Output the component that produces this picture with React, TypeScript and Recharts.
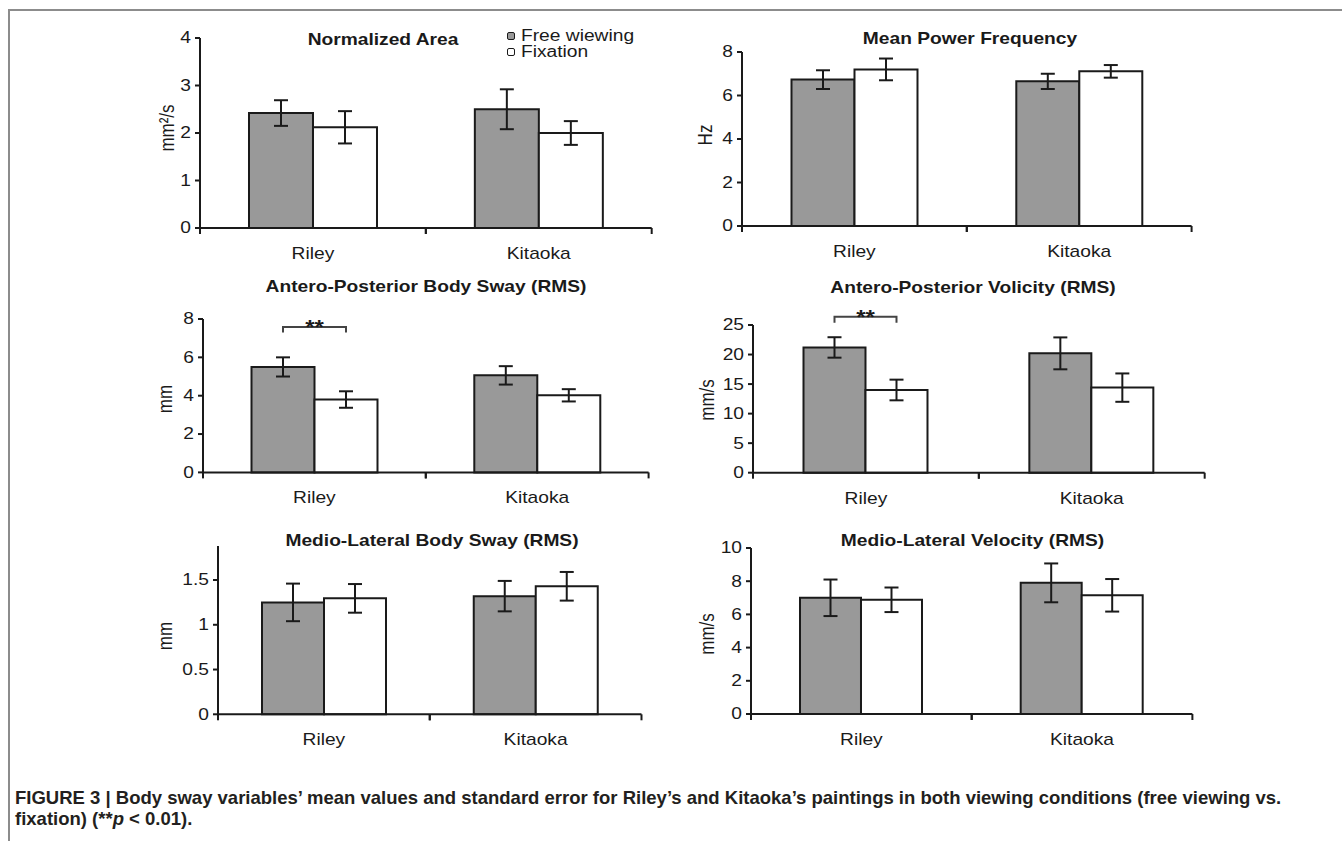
import React from 'react'
import { BarChart, Bar, XAxis, YAxis, ErrorBar, LabelList } from 'recharts'

const categories = ['Riley', 'Kitaoka']
const seriesNames = ['Free wiewing', 'Fixation']

// Normalized Area (mm²/s)
const areaFree = [2.42, 2.5]
const areaFreeSe = [0.27, 0.42]
const areaFix = [2.12, 2.0]
const areaFixSe = [0.34, 0.25]
const areaTicks = [0, 1, 2, 3, 4]

// Mean Power Frequency (Hz)
const mpfFree = [6.73, 6.65]
const mpfFreeSe = [0.43, 0.35]
const mpfFix = [7.2, 7.11]
const mpfFixSe = [0.5, 0.29]
const mpfTicks = [0, 2, 4, 6, 8]

// Antero-Posterior Body Sway (mm)
const apSwayFree = [5.5, 5.06]
const apSwayFreeSe = [0.5, 0.48]
const apSwayFix = [3.8, 4.02]
const apSwayFixSe = [0.43, 0.32]
const apSwayTicks = [0, 2, 4, 6, 8]

// Antero-Posterior Velocity (mm/s)
const apVelFree = [21.2, 20.2]
const apVelFreeSe = [1.73, 2.7]
const apVelFix = [14.0, 14.4]
const apVelFixSe = [1.75, 2.4]
const apVelTicks = [0, 5, 10, 15, 20, 25]

// Medio-Lateral Body Sway (mm)
const mlSwayFree = [1.25, 1.32]
const mlSwayFreeSe = [0.21, 0.17]
const mlSwayFix = [1.295, 1.43]
const mlSwayFixSe = [0.16, 0.16]
const mlSwayTicks = [0, 0.5, 1, 1.5]

// Medio-Lateral Velocity (mm/s)
const mlVelFree = [7.0, 7.9]
const mlVelFreeSe = [1.1, 1.17]
const mlVelFix = [6.88, 7.15]
const mlVelFixSe = [0.74, 0.98]
const mlVelTicks = [0, 2, 4, 6, 8, 10]

const FONT = '"Liberation Sans", Arial, Helvetica, sans-serif'
const INK = '#1a1a1a'
const GRAY = '#999999'
const seriesFill = [GRAY, '#ffffff']
const SX = 1.2

const panels = [
  {
    title: 'Normalized Area', unit: 'mm²/s', free: areaFree, freeSe: areaFreeSe, fix: areaFix, fixSe: areaFixSe,
    ticks: areaTicks, max: 4, axisX: 199.7, xEnd: 651.4, yTop: 38, yBot: 228, gap: 49,
    titleX: 383, titleY: 39.5, unitX: 167, unitY: 128,
  },
  {
    title: 'Mean Power Frequency', unit: 'Hz', free: mpfFree, freeSe: mpfFreeSe, fix: mpfFix, fixSe: mpfFixSe,
    ticks: mpfTicks, max: 8, axisX: 742.4, xEnd: 1192, yTop: 51.7, yBot: 225.7, gap: 49.5,
    titleX: 970, titleY: 39, unitX: 705, unitY: 135,
  },
  {
    title: 'Antero-Posterior Body Sway (RMS)', unit: 'mm', free: apSwayFree, freeSe: apSwayFreeSe, fix: apSwayFix, fixSe: apSwayFixSe,
    ticks: apSwayTicks, max: 8, axisX: 203.2, xEnd: 648.8, yTop: 319.3, yBot: 472.7, gap: 48.5,
    titleX: 426, titleY: 286.7, unitX: 165, unitY: 399,
    sig: { index: 0, leg: 7.29, top: 7.58 },
  },
  {
    title: 'Antero-Posterior Volicity (RMS)', unit: 'mm/s', free: apVelFree, freeSe: apVelFreeSe, fix: apVelFix, fixSe: apVelFixSe,
    ticks: apVelTicks, max: 25, axisX: 753.1, xEnd: 1204.8, yTop: 325, yBot: 472.7, gap: 50.5,
    titleX: 973, titleY: 287.4, unitX: 707, unitY: 400,
    sig: { index: 0, leg: 25.4, top: 26.4 },
  },
  {
    title: 'Medio-Lateral Body Sway (RMS)', unit: 'mm', free: mlSwayFree, freeSe: mlSwayFreeSe, fix: mlSwayFix, fixSe: mlSwayFixSe,
    ticks: mlSwayTicks, max: 1.88, axisX: 218.1, xEnd: 641.6, yTop: 546, yBot: 714.3, gap: 44,
    titleX: 432, titleY: 540.7, unitX: 165, unitY: 636,
  },
  {
    title: 'Medio-Lateral Velocity (RMS)', unit: 'mm/s', free: mlVelFree, freeSe: mlVelFreeSe, fix: mlVelFix, fixSe: mlVelFixSe,
    ticks: mlVelTicks, max: 10, axisX: 751.4, xEnd: 1192.8, yTop: 548.3, yBot: 714.3, gap: 49,
    titleX: 972.5, titleY: 540.7, unitX: 707, unitY: 634,
  },
]

function XTick(props: any) {
  const { x, y, payload, half } = props
  return (
    <g>
      <line x1={x - half} x2={x - half} y1={y} y2={y + 6} stroke={INK} strokeWidth={2} />
      <line x1={x + half} x2={x + half} y1={y} y2={y + 6} stroke={INK} strokeWidth={2} />
      <text
        transform={`translate(${x},${y + 31}) scale(${SX},1)`}
        textAnchor="middle"
        fontSize={16}
        fontFamily={FONT}
        fill={INK}
      >
        {payload.value}
      </text>
    </g>
  )
}

function YTick(props: any) {
  const { x, y, payload } = props
  return (
    <text
      transform={`translate(${x},${y}) scale(${SX},1)`}
      textAnchor="end"
      dominantBaseline="central"
      fontSize={16}
      fontFamily={FONT}
      fill={INK}
    >
      {payload.value}
    </text>
  )
}

function SigBracket(props: any) {
  const { sig, index, value } = props
  if (!sig || index !== sig.index) return null
  const box = props.viewBox && props.viewBox.width !== undefined ? props.viewBox : props
  const { x, width } = box
  const h = Math.abs(box.height)
  const base = Math.max(box.y, box.y + box.height)
  const per = h / value
  const top = base - sig.top * per
  const leg = base - sig.leg * per
  const x1 = x + width / 2
  const x2 = x + width * 1.5
  return (
    <g>
      <path d={`M${x1},${leg} V${top} H${x2} V${leg}`} fill="none" stroke="#444" strokeWidth={2} />
      <text
        transform={`translate(${(x1 + x2) / 2},${top + 7}) scale(${SX},1)`}
        textAnchor="middle"
        fontSize={20}
        fontWeight="bold"
        fontFamily={FONT}
        fill={INK}
      >
        **
      </text>
    </g>
  )
}

function Panel({ cfg }: { cfg: any }) {
  const data = categories.map((name, i) => ({
    name,
    free: cfg.free[i],
    freeSe: cfg.freeSe[i],
    fix: cfg.fix[i],
    fixSe: cfg.fixSe[i],
  }))
  const yw = 70
  const mt = 40
  const mr = 20
  const xh = 50
  const left = cfg.axisX - yw
  const top = cfg.yTop - mt
  const width = cfg.xEnd + mr - left
  const height = cfg.yBot + xh - top
  const half = (cfg.xEnd - cfg.axisX) / categories.length / 2

  return (
    <div style={{ position: 'absolute', left, top }}>
      <BarChart
        width={width}
        height={height}
        data={data}
        margin={{ top: mt, right: mr, bottom: 0, left: 0 }}
        barGap={0}
        barCategoryGap={cfg.gap}
      >
        <XAxis
          dataKey="name"
          height={xh}
          interval={0}
          tickLine={false}
          tickSize={0}
          tickMargin={0}
          axisLine={{ stroke: INK, strokeWidth: 2 }}
          tick={(p: any) => <XTick {...p} half={half} />}
        />
        <YAxis
          type="number"
          width={yw}
          domain={[0, cfg.max]}
          ticks={cfg.ticks}
          interval={0}
          tickSize={5}
          tickMargin={4}
          axisLine={{ stroke: INK, strokeWidth: 2 }}
          tickLine={{ stroke: INK, strokeWidth: 2 }}
          tick={(p: any) => <YTick {...p} />}
        />
        <Bar dataKey="free" name={seriesNames[0]} fill={seriesFill[0]} stroke={INK} strokeWidth={2} isAnimationActive={false}>
          <ErrorBar dataKey="freeSe" width={7} stroke={INK} strokeWidth={2} />
          {cfg.sig && <LabelList dataKey="free" content={(p: any) => <SigBracket {...p} sig={cfg.sig} />} />}
        </Bar>
        <Bar dataKey="fix" name={seriesNames[1]} fill={seriesFill[1]} stroke={INK} strokeWidth={2} isAnimationActive={false}>
          <ErrorBar dataKey="fixSe" width={7} stroke={INK} strokeWidth={2} />
        </Bar>
      </BarChart>
    </div>
  )
}

export default function App() {
  return (
    <div style={{ position: 'absolute', left: 0, top: 0, width: 1342, height: 841, background: '#fff', overflow: 'hidden' }}>
      <div style={{ position: 'absolute', left: 8, top: 9, width: 1334, height: 2, background: '#8c8c8c' }} />
      <div style={{ position: 'absolute', left: 8, top: 9, width: 2, height: 832, background: '#8c8c8c' }} />

      {panels.map((cfg) => (
        <Panel key={cfg.title} cfg={cfg} />
      ))}

      <svg width={1342} height={841} style={{ position: 'absolute', left: 0, top: 0, pointerEvents: 'none' }}>
        {panels.map((p) => (
          <g key={p.title} fontFamily={FONT} fill={INK}>
            <text
              transform={`translate(${p.titleX},${p.titleY}) scale(${SX},1)`}
              textAnchor="middle"
              dominantBaseline="central"
              fontSize={16}
              fontWeight="bold"
            >
              {p.title}
            </text>
            <text
              transform={`translate(${p.unitX},${p.unitY}) scale(${SX},1) rotate(-90)`}
              textAnchor="middle"
              dominantBaseline="central"
              fontSize={17}
            >
              {p.unit}
            </text>
          </g>
        ))}
      </svg>

      <div style={{ position: 'absolute', left: 507, top: 28, fontFamily: FONT, fontSize: 16, color: INK }}>
        {seriesNames.map((n, i) => (
          <div key={n} style={{ display: 'flex', alignItems: 'center', height: 16 }}>
            <span
              style={{
                display: 'inline-block',
                width: 8,
                height: 8,
                boxSizing: 'border-box',
                border: `1.5px solid ${INK}`,
                borderRadius: 2,
                background: seriesFill[i],
              }}
            />
            <span
              style={{
                display: 'inline-block',
                marginLeft: 6,
                lineHeight: '16px',
                transform: `scaleX(${SX})`,
                transformOrigin: 'left center',
                whiteSpace: 'nowrap',
              }}
            >
              {n}
            </span>
          </div>
        ))}
      </div>

      <div
        style={{
          position: 'absolute',
          left: 15,
          top: 787,
          fontFamily: FONT,
          fontWeight: 'bold',
          fontSize: 18.5,
          lineHeight: '21px',
          color: '#231f20',
          whiteSpace: 'nowrap',
        }}
      >
        FIGURE 3 | Body sway variables’ mean values and standard error for Riley’s and Kitaoka’s paintings in both viewing
        conditions (free viewing vs.
        <br />
        fixation) (**<i>p</i> &lt; 0.01).
      </div>
    </div>
  )
}
